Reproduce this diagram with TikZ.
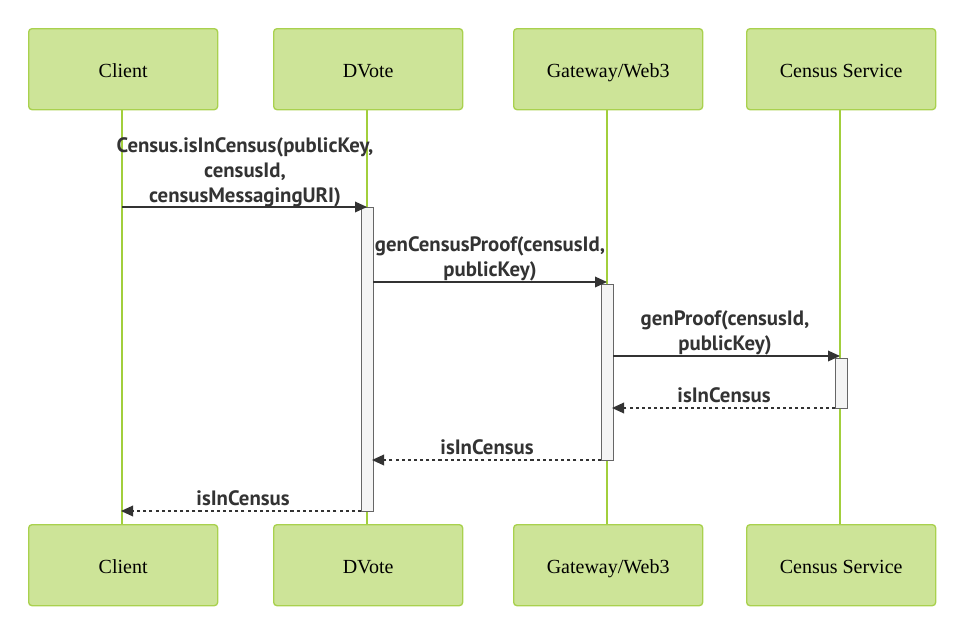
\documentclass[tikz,border=0pt]{standalone}
\usepackage{fontspec}
\setmainfont{Liberation Serif}
\newfontfamily\msgfont{PT Sans}
\usetikzlibrary{arrows.meta}
\definecolor{actfill}{HTML}{CDE498}
\definecolor{actborder}{HTML}{A9D14E}
\definecolor{lifeline}{HTML}{A2CF3C}
\definecolor{msgtext}{HTML}{333333}
\definecolor{barfill}{HTML}{F4F4F4}
\definecolor{barline}{HTML}{666666}
\newlength{\px}\setlength{\px}{0.75pt}
\tikzset{
  actor/.style={draw=actborder, line width=1pt, fill=actfill, rounded corners=2.5pt,
    minimum width=189\px, minimum height=81\px, inner sep=0pt, anchor=north west,
    text height=12.5pt, text depth=0pt,
    font=\fontsize{15}{18}\selectfont},
  life/.style={draw=lifeline, line width=1.6pt},
  bar/.style={draw=barline, line width=0.6pt, fill=barfill},
  msg/.style={draw=msgtext, line width=1pt, -{Triangle[length=9pt,width=8pt]}},
  reply/.style={msg, dash pattern=on 2.3pt off 2.3pt},
  lbl/.style={text=msgtext, font=\msgfont\bfseries\fontsize{15.6}{18.5}\selectfont, align=center, inner sep=0pt, anchor=base}
}
\begin{document}
\begin{tikzpicture}[x=0.75pt,y=-0.75pt]
\useasboundingbox (0,0) rectangle (960,632);
% lifelines
\coordinate (c1) at (122,109); \coordinate (c2) at (122,524);
\coordinate (d1) at (367,109); \coordinate (d2) at (367,524);
\coordinate (g1) at (607,109); \coordinate (g2) at (607,524);
\coordinate (s1) at (840,109); \coordinate (s2) at (840,524);
\draw[life] (c1) -- (c2);
\draw[life] (d1) -- (d2);
\draw[life] (g1) -- (g2);
\draw[life] (s1) -- (s2);
% actors
\node[actor] (clientT) at (28,28) {Client};
\node[actor] (dvoteT) at (273,28) {DVote};
\node[actor] (gwT) at (513,28) {Gateway/Web3};
\node[actor] (csT) at (746,28) {Census Service};
\node[actor] (clientB) at (28,524) {Client};
\node[actor] (dvoteB) at (273,524) {DVote};
\node[actor] (gwB) at (513,524) {Gateway/Web3};
\node[actor] (csB) at (746,524) {Census Service};
% activation bars
\draw[bar] (361,207) rectangle (373,511);
\draw[bar] (601,284) rectangle (613,460);
\draw[bar] (835,358) rectangle (847,408);
\coordinate (m1s) at (122,207); \coordinate (m1e) at (367,207);
\coordinate (m2s) at (373,282); \coordinate (m2e) at (607,282);
\coordinate (m3s) at (613,356); \coordinate (m3e) at (840,356);
\coordinate (m4s) at (835,408); \coordinate (m4e) at (612,408);
\coordinate (m5s) at (601,460); \coordinate (m5e) at (372,460);
\coordinate (m6s) at (361,511); \coordinate (m6e) at (121,511);
\draw[msg] (m1s) -- (m1e);
\draw[msg] (m2s) -- (m2e);
\draw[msg] (m3s) -- (m3e);
\draw[reply] (m4s) -- (m4e);
\draw[reply] (m5s) -- (m5e);
\draw[reply] (m6s) -- (m6e);
\node[lbl] (t1) at (245,202) {Census.isInCensus(publicKey,\\censusId,\\censusMessagingURI)};
\node[lbl] (t2) at (490,276) {genCensusProof(censusId,\\publicKey)};
\node[lbl] (t3) at (725,350) {genProof(censusId,\\publicKey)};
\node[lbl] (t4) at (724,402) {isInCensus};
\node[lbl] (t5) at (487,454) {isInCensus};
\node[lbl] (t6) at (243,505) {isInCensus};
\end{tikzpicture}
\end{document}
